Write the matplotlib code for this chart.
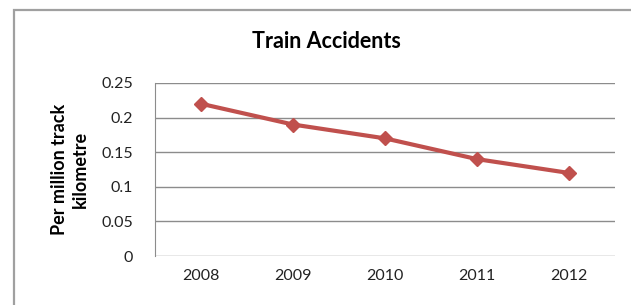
import matplotlib
matplotlib.use("Agg")
from matplotlib import pyplot as plt
from matplotlib.patches import Rectangle

years = ["2008", "2009", "2010", "2011", "2012"]
accidents = [0.22, 0.19, 0.17, 0.14, 0.12]
yticks = [0, 0.05, 0.1, 0.15, 0.2, 0.25]
ytick_labels = ["0", "0.05", "0.1", "0.15", "0.2", "0.25"]

plt.rcParams['font.family'] = ['Lato', 'DejaVu Sans']

fig = plt.figure(figsize=(6.31, 3.05), dpi=100)

# outer chart frame, running off the right and bottom edges
fig.patches.append(Rectangle((14 / 631, -0.1), 1.0, 1 - 10 / 305 + 0.1,
                             transform=fig.transFigure, fill=False,
                             edgecolor='#a0a0a0', linewidth=1.6))

ax = fig.add_axes([155 / 631, 1 - 256 / 305, 460 / 631, 173 / 305])

x = range(len(years))
ax.plot(x, accidents, color='#C0504D', linewidth=3, marker='D',
        markersize=7, zorder=3)

ax.set_xlim(-0.5, len(years) - 0.5)
ax.set_ylim(0, 0.25)
ax.set_xticks(list(x))
ax.set_xticklabels(years)
ax.set_yticks(yticks)
ax.set_yticklabels(ytick_labels)
ax.tick_params(axis='both', length=0, labelsize=11.5, colors='#222222')
ax.tick_params(axis='y', pad=16)
ax.tick_params(axis='x', pad=9)

ax.grid(axis='y', color='#8c8c8c', linewidth=1)
ax.set_axisbelow(True)
for side in ['top', 'right', 'bottom']:
    ax.spines[side].set_visible(False)
ax.spines['left'].set_color('#8c8c8c')

ax.set_ylabel("Per million track\nkilometre", fontsize=13, fontweight='bold',
              linespacing=1.25, labelpad=9)
fig.text(326 / 631, 1 - 41 / 305, "Train Accidents", ha='center', va='center',
         fontsize=15.5, fontweight='bold')

fig.savefig("out.png", dpi=100)
